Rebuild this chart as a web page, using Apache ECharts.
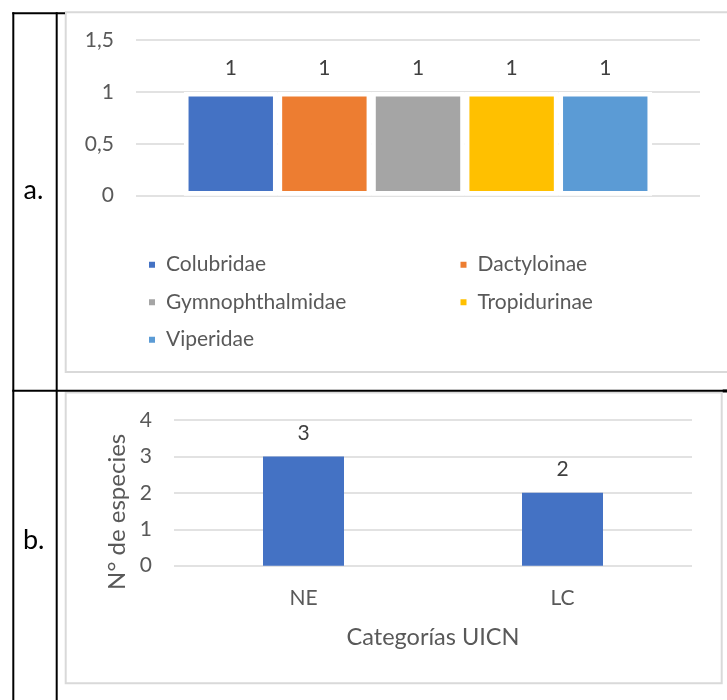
<!DOCTYPE html>
<html>
<head>
<meta charset="utf-8">
<script src="https://cdn.jsdelivr.net/npm/echarts@6/dist/echarts.min.js"></script>
<style>
  html, body { margin: 0; padding: 0; background: #ffffff; }
  #chart { width: 727px; height: 700px; }
</style>
</head>
<body>
<div id="chart"></div>
<script>
// ---- data (a): species per family ----
const familias = ['Colubridae', 'Dactyloinae', 'Gymnophthalmidae', 'Tropidurinae', 'Viperidae'];
const especiesPorFamilia = [1, 1, 1, 1, 1];
const coloresFamilia = ['#4472C4', '#ED7D31', '#A5A5A5', '#FFC000', '#5B9BD5'];
const ejeA = { min: 0, max: 1.5, interval: 0.5 };

// ---- data (b): species per IUCN category ----
const categoriasUICN = ['NE', 'LC'];
const especiesPorCategoria = [3, 2];
const ejeB = { min: 0, max: 4, interval: 1 };
const tituloX = 'Categorías UICN';
const tituloY = 'N° de especies';
const etiquetasFilas = ['a.', 'b.'];

const FONT = 'Lato, "Open Sans", sans-serif';
const TXT = '#595959';
const LBL = '#404040';
const GRID = '#D9D9D9';

const chart = echarts.init(document.getElementById('chart'), null, { renderer: 'canvas' });

const seriesA = familias.map((f, i) => ({
  type: 'bar',
  name: f,
  xAxisIndex: 0,
  yAxisIndex: 0,
  data: [especiesPorFamilia[i]],
  barGap: 0,
  barCategoryGap: '17%',
  itemStyle: { color: coloresFamilia[i], borderColor: '#ffffff', borderWidth: 4.6 },
  label: { show: true, position: 'top', distance: 13, fontFamily: FONT, fontSize: 21, color: LBL },
  emphasis: { disabled: true },
  animation: false
}));

const option = {
  animation: false,
  backgroundColor: '#ffffff',
  textStyle: { fontFamily: FONT },
  grid: [
    { left: 136, right: 27, top: 40, bottom: 504.3 },
    { left: 174, right: 35, top: 420, bottom: 134.3 }
  ],
  xAxis: [
    { gridIndex: 0, type: 'category', data: [''],
      axisLine: { show: false }, axisTick: { show: false }, axisLabel: { show: false } },
    { gridIndex: 1, type: 'category', data: categoriasUICN,
      axisLine: { show: false }, axisTick: { show: false },
      axisLabel: { fontFamily: FONT, fontSize: 21, color: TXT, margin: 22 },
      name: tituloX, nameLocation: 'middle', nameGap: 60,
      nameTextStyle: { fontFamily: FONT, fontSize: 23.5, color: TXT } }
  ],
  yAxis: [
    { gridIndex: 0, type: 'value', min: ejeA.min, max: ejeA.max, interval: ejeA.interval,
      axisLine: { show: false }, axisTick: { show: false },
      axisLabel: { fontFamily: FONT, fontSize: 21, color: TXT, margin: 22,
        formatter: v => String(v).replace('.', ',') },
      splitLine: { lineStyle: { color: GRID, width: 1.5 } } },
    { gridIndex: 1, type: 'value', min: ejeB.min, max: ejeB.max, interval: ejeB.interval,
      axisLine: { show: false }, axisTick: { show: false },
      axisLabel: { fontFamily: FONT, fontSize: 21, color: TXT, margin: 22 },
      splitLine: { lineStyle: { color: GRID, width: 1.5 } },
      name: tituloY, nameLocation: 'middle', nameRotate: 90, nameGap: 44,
      nameTextStyle: { fontFamily: FONT, fontSize: 24, color: TXT, padding: [0, 38, 0, 0] } }
  ],
  legend: [
    { orient: 'vertical', left: 147, top: 252.7, padding: 0, itemGap: 13.5,
      itemWidth: 8, itemHeight: 8, icon: 'rect', selectedMode: false,
      data: [familias[0], familias[2], familias[4]],
      textStyle: { fontFamily: FONT, fontSize: 21, color: TXT, lineHeight: 24, padding: [0, 0, 0, 5] } },
    { orient: 'vertical', left: 458.5, top: 252.7, padding: 0, itemGap: 13.5,
      itemWidth: 8, itemHeight: 8, icon: 'rect', selectedMode: false,
      data: [familias[1], familias[3]],
      textStyle: { fontFamily: FONT, fontSize: 21, color: TXT, lineHeight: 24, padding: [0, 0, 0, 5] } }
  ],
  series: seriesA.concat([
    { type: 'bar', name: 'b', xAxisIndex: 1, yAxisIndex: 1, data: especiesPorCategoria,
      barWidth: 81,
      itemStyle: { color: '#4472C4' },
      label: { show: true, position: 'top', distance: 13, fontFamily: FONT, fontSize: 21, color: LBL },
      emphasis: { disabled: true } }
  ]),
  graphic: [
    // chart frames
    { type: 'rect', shape: { x: 65.7, y: 12.3, width: 700, height: 359.7 }, silent: true, z: 1,
      style: { fill: 'none', stroke: GRID, lineWidth: 2 } },
    { type: 'rect', shape: { x: 65.7, y: 392.5, width: 656, height: 290.8 }, silent: true, z: 1,
      style: { fill: 'none', stroke: GRID, lineWidth: 2 } },
    // table lines
    { type: 'line', shape: { x1: 13.3, y1: 12.3, x2: 13.3, y2: 700 }, silent: true, z: 2,
      style: { stroke: '#000', lineWidth: 2 } },
    { type: 'line', shape: { x1: 56.7, y1: 12.3, x2: 56.7, y2: 700 }, silent: true, z: 2,
      style: { stroke: '#000', lineWidth: 2 } },
    { type: 'line', shape: { x1: 12.3, y1: 13.3, x2: 65, y2: 13.3 }, silent: true, z: 2,
      style: { stroke: '#000', lineWidth: 2 } },
    { type: 'line', shape: { x1: 12.3, y1: 390.7, x2: 727, y2: 390.7 }, silent: true, z: 2,
      style: { stroke: '#000', lineWidth: 2 } },
    { type: 'rect', shape: { x: 722.7, y: 389.5, width: 4.3, height: 3 }, silent: true, z: 2,
      style: { fill: '#000' } },
    // row labels
    { type: 'text', silent: true, z: 2,
      style: { x: 23.5, y: 190, text: etiquetasFilas[0], font: '27px ' + FONT, fill: '#000',
        verticalAlign: 'middle', align: 'left' } },
    { type: 'text', silent: true, z: 2,
      style: { x: 23, y: 540, text: etiquetasFilas[1], font: '27px ' + FONT, fill: '#000',
        verticalAlign: 'middle', align: 'left' } }
  ]
};

chart.setOption(option);
</script>
</body>
</html>
